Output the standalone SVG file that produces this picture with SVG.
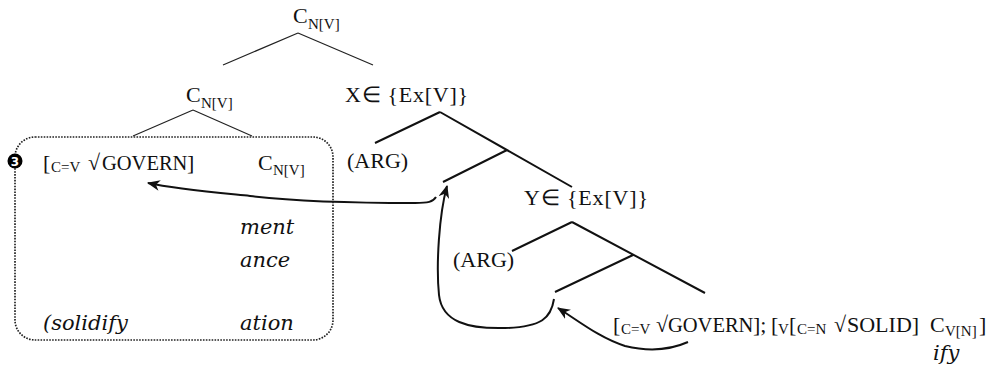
<svg xmlns="http://www.w3.org/2000/svg" width="989" height="369" viewBox="0 0 989 369">
<style>
.t{font-family:"Liberation Serif","Times New Roman",serif;font-size:22px;fill:#111}
.s{font-family:"Liberation Serif","Times New Roman",serif;font-size:15px;fill:#111}
.g{font-size:20.5px}
.i{font-family:"DejaVu Serif","Liberation Serif",serif;font-style:italic;font-size:21px;fill:#111}
.thin{stroke:#222;stroke-width:1.2;fill:none}
.br{stroke:#111;stroke-width:2;fill:none}
.arr{stroke:#111;stroke-width:2;fill:none;marker-end:url(#ah)}
.box{fill:none;stroke:#222;stroke-width:1.7;stroke-dasharray:1.6 1.3}
</style>
<defs>
<marker id="ah" viewBox="0 0 12 10" refX="11" refY="5" markerWidth="13" markerHeight="11" markerUnits="userSpaceOnUse" orient="auto">
<path d="M0,0 L12,5 L0,10 L3.5,5 z" fill="#111"/>
</marker>
</defs>
<rect width="989" height="369" fill="#fff"/>

<g id="connectors">
<path class="thin" d="M298,33 L223,65 M298,33 L373,65"/>
<path class="thin" d="M193,110 L133,136 M193,110 L252,136"/>
<path class="br" d="M440,112 L375,143 M440,112 L572,187 M507,150 L443,182"/>
<path class="br" d="M572,222 L512,251 M572,222 L705,293 M633,255 L555,292"/>
<path class="arr" d="M436,197 C433,202 428,203 415,203 C360,203 300,202 250,196 C210,192 175,189 148,183"/>
<path class="arr" d="M554,299 C551,318 542,327 505,328 C468,329 442,322 439,295 C436,265 439,215 447,186"/>
<path class="arr" d="M688,342 C670,350 650,352 625,346 C600,338 580,322 558,308"/>
</g>

<g id="top-node">
<text class="t" x="293" y="23">C<tspan class="s" x="308" y="29">N[V]</tspan></text>
</g>

<g id="mid-node">
<text class="t" x="186" y="102">C<tspan class="s" x="201" y="108">N[V]</tspan></text>
</g>

<g id="x-node">
<text class="t" x="345" y="102" textLength="123" lengthAdjust="spacing">X∈ {Ex[V]}</text>
</g>

<g id="arg1">
<text class="t" x="347" y="168">(ARG)</text>
</g>

<g id="y-node">
<text class="t" x="524" y="205" textLength="124" lengthAdjust="spacing">Y∈ {Ex[V]}</text>
</g>

<g id="arg2">
<text class="t" x="453" y="267">(ARG)</text>
</g>

<g id="box">
<rect class="box" x="15" y="137" width="318" height="203" rx="20"/>
<circle cx="15" cy="161" r="7.5" fill="#000"/>
<text x="15" y="165.5" text-anchor="middle" style="font-family:'DejaVu Sans',sans-serif;font-weight:bold;font-size:12px;fill:#fff">3</text>
<text class="t" y="170"><tspan x="43">[</tspan><tspan class="s" x="51" y="172">C=V</tspan><tspan x="88" y="170">√</tspan><tspan class="g" x="102">GOVERN</tspan><tspan x="187">]</tspan></text>
<text class="t" x="258" y="170">C<tspan class="s" x="273" y="175">N[V]</tspan></text>
<text class="i" x="240" y="234">ment</text>
<text class="i" x="240" y="267">ance</text>
<text class="i" x="43" y="330">(solidify</text>
<text class="i" x="240" y="330">ation</text>
</g>

<g id="bottom-node">
<text class="t" y="332"><tspan x="613">[</tspan><tspan class="s" x="621" y="334">C=V</tspan><tspan x="656" y="332">√</tspan><tspan class="g" x="668">GOVERN</tspan><tspan x="753">];</tspan><tspan x="771">[</tspan><tspan class="s" x="778" y="334">V</tspan><tspan x="789" y="332">[</tspan><tspan class="s" x="797" y="334">C=N</tspan><tspan x="834" y="332">√</tspan><tspan x="847">SOLID]</tspan><tspan x="930">C</tspan><tspan class="s" x="945" y="336">V[N]</tspan><tspan x="979" y="332">]</tspan></text>
<text class="i" x="933" y="360">ify</text>
</g>
</svg>
